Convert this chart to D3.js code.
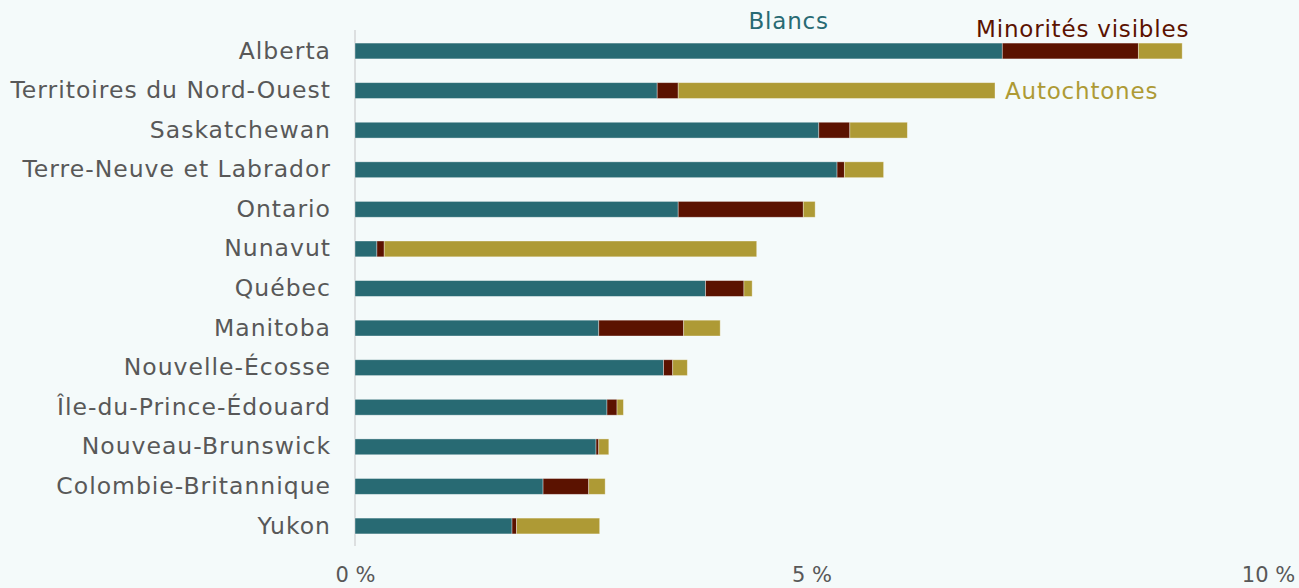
<!DOCTYPE html>
<html lang="fr">
<head>
<meta charset="utf-8">
<script src="https://cdn.jsdelivr.net/npm/d3@7"></script>
<style>
  html, body { margin: 0; padding: 0; background: #f4fafa; }
  svg { display: block; font-family: "DejaVu Sans", "Open Sans", sans-serif; }
</style>
</head>
<body>
<svg id="chart" width="1299" height="588"></svg>
<script>
// Provinces and territories, in display order
const regions = [
  "Alberta", "Territoires du Nord-Ouest", "Saskatchewan", "Terre-Neuve et Labrador",
  "Ontario", "Nunavut", "Québec", "Manitoba", "Nouvelle-Écosse",
  "Île-du-Prince-Édouard", "Nouveau-Brunswick", "Colombie-Britannique", "Yukon"
];
// Percentage points contributed by each population group
const blancs     = [7.09, 3.31, 5.08, 5.28, 3.54, 0.24, 3.84, 2.67, 3.38, 2.76, 2.64, 2.06, 1.72];
const minorites  = [1.49, 0.23, 0.34, 0.08, 1.37, 0.08, 0.42, 0.93, 0.10, 0.11, 0.03, 0.50, 0.05];
const autochtones= [0.48, 3.47, 0.63, 0.43, 0.13, 4.08, 0.09, 0.40, 0.16, 0.07, 0.11, 0.18, 0.91];

const groups = ["blancs", "minorites", "autochtones"];
const groupNames = ["Blancs", "Minorités visibles", "Autochtones"];
const groupColors = ["#286a73", "#5b1200", "#ae9a35"];
const xTicks = [0, 5, 10];
const tickLabels = ["0 %", "5 %", "10 %"];

const rows = regions.map((r, i) => ({
  region: r, blancs: blancs[i], minorites: minorites[i], autochtones: autochtones[i]
}));

const svg = d3.select("#chart");
const x = d3.scaleLinear().domain([0, 10]).range([355, 1268]);
const y = d3.scaleBand().domain(regions).range([31.2, 545.8])
  .paddingInner(0.6).paddingOuter(0.3);
const color = d3.scaleOrdinal().domain(groups).range(groupColors);

const stack = d3.stack().keys(groups)(rows);

// baseline at zero
svg.append("line")
  .attr("x1", x(0)).attr("x2", x(0))
  .attr("y1", 30).attr("y2", 546)
  .attr("stroke", "#dcdfe0").attr("stroke-width", 2);

// stacked bars
svg.append("g").selectAll("g")
  .data(stack).join("g")
  .attr("fill", d => color(d.key))
  .selectAll("rect")
  .data(d => d).join("rect")
  .attr("x", d => x(d[0]))
  .attr("width", d => Math.max(0, x(d[1]) - x(d[0])))
  .attr("y", d => y(d.data.region))
  .attr("height", y.bandwidth())
  .attr("stroke", "rgba(255,255,255,0.45)")
  .attr("stroke-width", 0.8);

const labelFont = "'DejaVu Sans', 'Open Sans', sans-serif";

// category labels
const yAxis = d3.axisLeft(y).tickSize(0).tickPadding(24);
const yg = svg.append("g").attr("transform", `translate(${x(0)},0)`).call(yAxis);
yg.select(".domain").remove();
yg.selectAll("text")
  .attr("fill", "#585858")
  .attr("font-size", 23.5)
  .attr("letter-spacing", 1)
  .attr("font-family", labelFont);

// percentage axis
const xAxis = d3.axisBottom(x).tickValues(xTicks).tickSize(0)
  .tickFormat((d, i) => tickLabels[i]);
const xg = svg.append("g").attr("transform", "translate(0,564)").call(xAxis);
xg.select(".domain").remove();
xg.selectAll("text")
  .attr("fill", "#585858")
  .attr("font-size", 21)
  .attr("font-family", labelFont);

// series labels placed beside the bars they describe
const alberta = rows[0];
const tno = rows[1];
const annot = [
  { text: groupNames[0], x: x(4.75), y: 29, anchor: "middle", fill: groupColors[0] },
  { text: groupNames[1], x: x(alberta.blancs + alberta.minorites + alberta.autochtones) + 7, y: 37, anchor: "end", fill: groupColors[1] },
  { text: groupNames[2], x: x(tno.blancs + tno.minorites + tno.autochtones) + 10, y: 99, anchor: "start", fill: groupColors[2] }
];
svg.append("g").selectAll("text")
  .data(annot).join("text")
  .attr("x", d => d.x).attr("y", d => d.y)
  .attr("text-anchor", d => d.anchor)
  .attr("fill", d => d.fill)
  .attr("font-size", 23)
  .attr("letter-spacing", 0.8)
  .attr("font-family", labelFont)
  .text(d => d.text);
</script>
</body>
</html>
